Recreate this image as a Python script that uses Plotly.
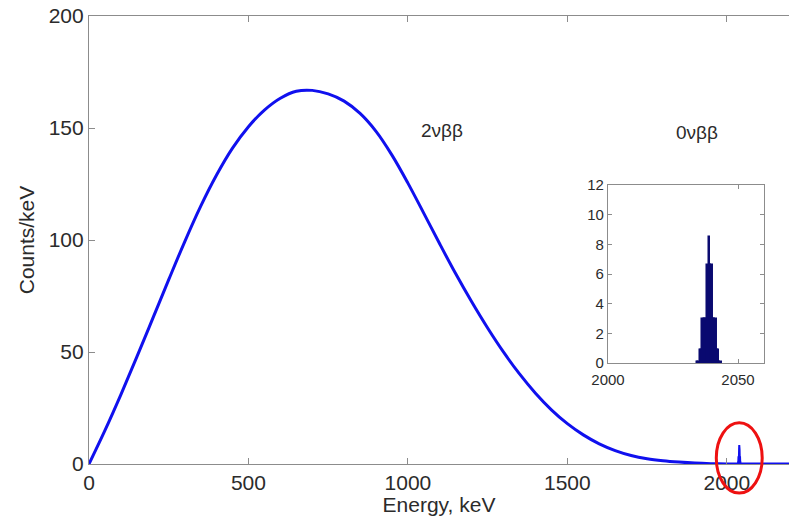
import plotly.graph_objects as go

# 2νββ continuum: summed electron energy spectrum (counts per keV)
energy_2nu = [0, 50, 100, 150, 200, 250, 300, 350, 400, 450, 500, 550, 600, 650,
              700, 750, 800, 850, 900, 950, 1000, 1050, 1100, 1150, 1200, 1250, 1300,
              1350, 1400, 1450, 1500, 1550, 1600, 1650, 1700, 1750, 1800, 1850, 1900,
              1950, 2000, 2050, 2100, 2200]
counts_2nu = [0, 15, 31, 47.8, 65, 82.3, 99.2, 115, 129, 141, 150.6, 158, 163.3, 166.4,
              166.8, 165.2, 162.0, 156.5, 148.5, 137.9, 125.4, 111.9, 98.2, 84.9, 72.4, 60.7, 49.9,
              40.2, 31.6, 24.2, 18.0, 13.0, 9.0, 6.0, 3.8, 2.35, 1.45, 0.85, 0.4,
              0.15, 0.04, 0.01, 0, 0]

# 0νββ peak at the Q-value, 0.5 keV bins
energy_0nu = [2034.5, 2035.0, 2035.5, 2036.0, 2036.5, 2037.0, 2037.5, 2038.0, 2038.5,
              2039.0, 2039.5, 2040.0, 2040.5, 2041.0, 2041.5, 2042.0, 2042.5, 2043.0,
              2043.5]
counts_0nu = [0.1, 0.1, 0.9, 0.9, 3.0, 3.0, 3.0, 3.0, 6.6,
              8.5, 6.6, 6.6, 3.0, 3.0, 3.0, 0.9, 0.9, 0.1,
              0.1]

main_xticks = [0, 500, 1000, 1500, 2000]
main_yticks = [0, 50, 100, 150, 200]
inset_xticks = [2000, 2050]
inset_yticks = [0, 2, 4, 6, 8, 10, 12]

X_MAX = 2195
AXIS_GRAY = "#8c8c8c"
TEXT = "#2b2b2b"
FONT = "Liberation Sans, Arial, sans-serif"

fig = go.Figure()

fig.add_trace(go.Scatter(
    x=energy_2nu, y=counts_2nu, mode="lines",
    line=dict(color="#1010ee", width=3, shape="spline", smoothing=1.0),
    xaxis="x", yaxis="y", hoverinfo="skip", showlegend=False))

fig.add_trace(go.Scatter(
    x=[energy_0nu[0] - 1] + energy_0nu + [energy_0nu[-1] + 1],
    y=[0] + counts_0nu + [0], mode="lines",
    line=dict(color="#1010ee", width=2),
    xaxis="x", yaxis="y", hoverinfo="skip", showlegend=False))

# inset histogram of the 0νββ peak
fig.add_trace(go.Bar(
    x=energy_0nu, y=counts_0nu, width=0.5,
    marker=dict(color="#0a0a70", line=dict(color="#0a0a70", width=1.5)),
    xaxis="x2", yaxis="y2", hoverinfo="skip", showlegend=False))

main_axis = dict(showline=True, linecolor=AXIS_GRAY, linewidth=1.2,
                 ticks="inside", ticklen=6, tickcolor=AXIS_GRAY, tickwidth=1,
                 showgrid=False, zeroline=False,
                 tickfont=dict(family=FONT, size=21, color=TEXT))

inset_axis = dict(showline=True, linecolor=AXIS_GRAY, linewidth=1.2, mirror="ticks",
                  ticks="inside", ticklen=4, tickcolor=AXIS_GRAY, tickwidth=1,
                  showgrid=False, zeroline=False,
                  tickfont=dict(family=FONT, size=15, color=TEXT))

inset_x0, inset_x1 = 0.7414, 0.9643
inset_y0, inset_y1 = 0.2254, 0.6228

fig.update_layout(
    width=789, height=516,
    margin=dict(l=89, r=0, t=16, b=52),
    paper_bgcolor="white", plot_bgcolor="white",
    font=dict(family=FONT, color=TEXT),
    xaxis=dict(main_axis, range=[0, X_MAX], tickvals=main_xticks, mirror="ticks",
               domain=[0, 1],
               title=dict(text="Energy, keV", standoff=0,
                          font=dict(family=FONT, size=21, color=TEXT))),
    yaxis=dict(main_axis, range=[0, 200], tickvals=main_yticks, domain=[0, 1],
               title=dict(text="Counts/keV", standoff=8,
                          font=dict(family=FONT, size=21, color=TEXT))),
    xaxis2=dict(inset_axis, range=[2000, 2060], tickvals=inset_xticks,
                domain=[inset_x0, inset_x1], anchor="y2", ticklabelstandoff=3),
    yaxis2=dict(inset_axis, range=[0, 12], tickvals=inset_yticks,
                domain=[inset_y0, inset_y1], anchor="x2"),
    bargap=0,
)

# white backing for the inset panel
fig.add_shape(type="rect", xref="paper", yref="paper", layer="below",
              x0=inset_x0, x1=inset_x1, y0=inset_y0, y1=inset_y1,
              fillcolor="white", line=dict(width=0))

# red ring around the 0νββ peak on the main spectrum
peak_e = energy_0nu[counts_0nu.index(max(counts_0nu))]
half_w = 72
fig.add_shape(type="circle", xref="paper", yref="paper", layer="above",
              x0=(peak_e - half_w) / X_MAX, x1=(peak_e + half_w) / X_MAX,
              y0=-0.065, y1=0.092,
              line=dict(color="#ee1111", width=3), fillcolor="rgba(0,0,0,0)")

fig.add_annotation(x=1107, y=149, xref="x", yref="y", text="2νββ", showarrow=False,
                   font=dict(family=FONT, size=19, color=TEXT))
fig.add_annotation(x=1905, y=148, xref="x", yref="y", text="0νββ", showarrow=False,
                   font=dict(family=FONT, size=19, color=TEXT))

fig.write_html("out.html")
